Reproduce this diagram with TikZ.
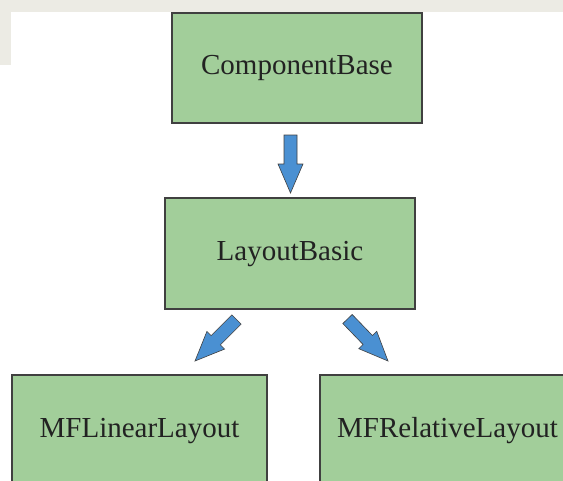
\documentclass[tikz,border=0pt]{standalone}
\usepackage{fontspec}
\setmainfont{Liberation Serif}
\usetikzlibrary{calc}
\definecolor{boxgreen}{HTML}{A2CE9A}
\definecolor{boxedge}{HTML}{404040}
\definecolor{arrowblue}{HTML}{4A90D2}
\definecolor{wmgray}{HTML}{ECEBE4}
\definecolor{txt}{HTML}{222222}
\tikzset{
  classbox/.style={draw=boxedge, line width=1.3pt, fill=boxgreen, inner sep=0pt,
    minimum height=111pt, text height=19pt, text depth=6pt,
    font=\fontsize{29}{34}\selectfont, text=txt},
  blockarrow/.style={fill=arrowblue, draw=boxedge, line width=0.6pt, line join=miter}
}
\newcommand\myblockarrow[2]{%
  \coordinate (#1mid) at ($(#1)!0.5!(#2)$);
  \path[blockarrow]
    ($(#1)!6.5pt!90:(#2)$) -- ($(#1mid)!6.5pt!90:(#2)$) -- ($(#1mid)!12.5pt!90:(#2)$)
    -- (#2) -- ($(#1mid)!12.5pt!-90:(#2)$) -- ($(#1mid)!6.5pt!-90:(#2)$)
    -- ($(#1)!6.5pt!-90:(#2)$) -- cycle;}
\begin{document}
\begin{tikzpicture}[x=1pt,y=-1pt]
  \useasboundingbox (0,0) rectangle (563,480);
  \clip (0,0) rectangle (563,480);
  % faint watermark
  \fill[wmgray] (0,0) rectangle (563,12);
  \fill[wmgray] (0,12) rectangle (11,65);
  % boxes
  \node[classbox, minimum width=250pt, minimum height=110pt] (cb) at (297,68) {ComponentBase};
  \node[classbox, minimum width=250pt] (lb) at (290,253.5) {LayoutBasic};
  \node[classbox, minimum width=255pt] (ml) at (139.5,430.5) {MFLinearLayout};
  \node[classbox, minimum width=255pt] (mr) at (447.5,430.5) {MFRelativeLayout};
  % arrows
  \coordinate (t1) at (290.5,135);
  \coordinate (h1) at (290.5,193);
  \coordinate (t2) at (236.5,319.5);
  \coordinate (h2) at (195,361);
  \coordinate (t3) at (347.5,319);
  \coordinate (h3) at (388,361);
  \myblockarrow{t1}{h1}
  \myblockarrow{t2}{h2}
  \myblockarrow{t3}{h3}
\end{tikzpicture}
\end{document}
